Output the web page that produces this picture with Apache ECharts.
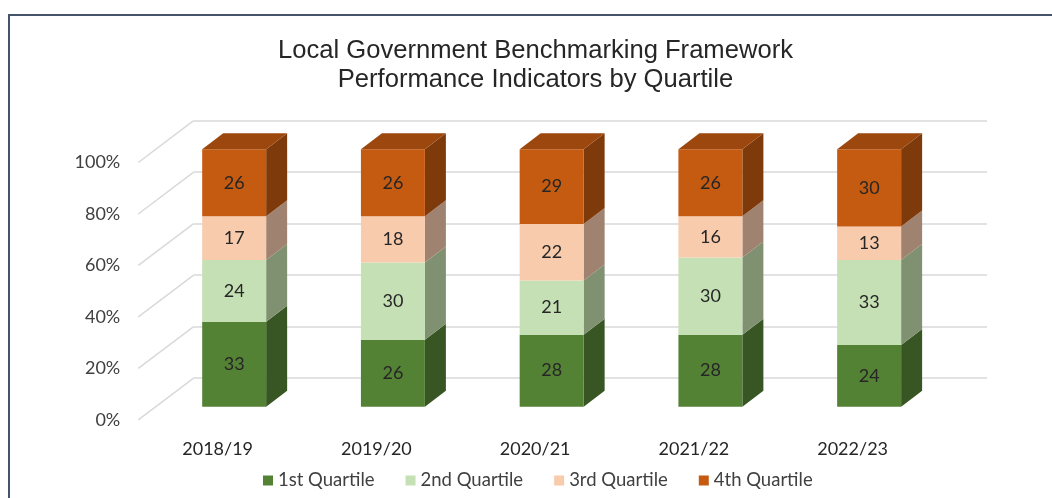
<!DOCTYPE html>
<html>
<head>
<meta charset="utf-8">
<script src="https://cdn.jsdelivr.net/npm/echarts@6/dist/echarts.min.js"></script>
<style>
  html, body { margin: 0; padding: 0; background: #fff; overflow: hidden; }
  .frame {
    position: absolute;
    left: 8px;
    top: 14px;
    width: 2000px;
    height: 1000px;
    border-left: 2px solid #44546a;
    border-top: 2px solid #44546a;
  }
  #chart { position: absolute; left: 0; top: 0; width: 1052px; height: 498px; }
</style>
</head>
<body>
<div class="frame"></div>
<div id="chart"></div>
<script>
const years = ['2018/19', '2019/20', '2020/21', '2021/22', '2022/23']
const quartiles = ['1st Quartile', '2nd Quartile', '3rd Quartile', '4th Quartile']
const q1 = [33, 26, 28, 28, 24]
const q2 = [24, 30, 21, 30, 33]
const q3 = [17, 18, 22, 16, 13]
const q4 = [26, 26, 29, 26, 30]
const yTicks = [0, 20, 40, 60, 80, 100]

// front / side / top colours per quartile
const fronts = ['#548235', '#c5e0b4', '#f8cbad', '#c55a11']
const sides = ['#375623', '#7f9171', '#a08270', '#7f3a0b']
const topColor = '#9c470e'

// 3d depth of a bar and of the whole plot box
const barDx = 21
const barDy = 16
const wallDx = 55
const wallDy = 41.6

const chart = echarts.init(document.getElementById('chart'))

const font = 'Lato, "Noto Sans", sans-serif'
const plotW = 793.7
const plotH = 257.4

function stackData(values, below) {
  return values.map((v, i) => {
    let base = 0
    below.forEach(arr => { base += arr[i] })
    return [i, base, base + v, v]
  })
}

function barRender(k) {
  return function (params, api) {
    const i = api.value(0)
    const pb = api.coord([i, api.value(1)])
    const pt = api.coord([i, api.value(2)])
    const w = api.size([1, 0])[0] * 0.403
    const x0 = pb[0] - w / 2
    const x1 = pb[0] + w / 2
    const yb = pb[1]
    const yt = pt[1]
    const children = [
      {
        type: 'polygon',
        shape: { points: [[x1, yb], [x1 + barDx, yb - barDy], [x1 + barDx, yt - barDy], [x1, yt]] },
        style: { fill: sides[k] }
      },
      {
        type: 'rect',
        shape: { x: x0, y: yt, width: w, height: yb - yt },
        style: { fill: fronts[k] }
      },
      {
        type: 'text',
        style: {
          text: String(api.value(3)),
          x: pb[0],
          y: (yb + yt) / 2,
          align: 'center',
          verticalAlign: 'middle',
          fill: '#262626',
          fontSize: 18,
          fontFamily: font
        }
      }
    ]
    if (k === 3) {
      children.push({
        type: 'polygon',
        shape: { points: [[x0, yt], [x1, yt], [x1 + barDx, yt - barDy], [x0 + barDx, yt - barDy]] },
        style: { fill: topColor }
      })
    }
    return { type: 'group', children: children }
  }
}

const all = [q1, q2, q3, q4]
const barSeries = all.map((arr, k) => ({
  name: quartiles[k],
  type: 'custom',
  xAxisIndex: 0,
  yAxisIndex: 0,
  itemStyle: { color: fronts[k] },
  renderItem: barRender(k),
  data: stackData(arr, all.slice(0, k))
}))

const option = {
  animation: false,
  title: {
    text: 'Local Government Benchmarking Framework\nPerformance Indicators by Quartile',
    left: 530.5,
    top: 31,
    textAlign: 'center',
    textStyle: {
      fontFamily: '"Liberation Sans", Arial, sans-serif',
      fontSize: 25.6,
      fontWeight: 'normal',
      lineHeight: 29,
      color: '#262626'
    }
  },
  legend: {
    data: quartiles,
    left: 258,
    top: 466,
    icon: 'rect',
    itemWidth: 10,
    itemHeight: 10,
    itemGap: 31,
    textStyle: { fontFamily: font, fontSize: 18.5, color: '#404040' }
  },
  grid: [
    // bar plane
    { left: 154.8, top: 149.3, width: plotW, height: plotH },
    // front plane (axis labels)
    { left: 138.3, top: 162.5, width: plotW, height: plotH },
    // back wall (gridlines)
    { left: 193.3, top: 120.5, width: plotW, height: plotH }
  ],
  xAxis: [0, 1, 2].map(g => ({
    type: 'category',
    gridIndex: g,
    data: years,
    axisLine: { show: false },
    axisTick: { show: false },
    axisLabel: {
      show: g === 1,
      margin: 20,
      fontFamily: font,
      fontSize: 18,
      color: '#262626'
    }
  })),
  yAxis: [0, 1, 2].map(g => ({
    type: 'value',
    gridIndex: g,
    min: 0,
    max: 100,
    interval: 20,
    axisLine: { show: false },
    axisTick: { show: false },
    axisLabel: {
      show: g === 1,
      margin: 18,
      formatter: '{value}%',
      fontFamily: font,
      fontSize: 18,
      color: '#404040'
    },
    splitLine: {
      show: g === 2,
      lineStyle: { color: '#d9d9d9', width: 1.5 }
    }
  })),
  series: [
    {
      // diagonal gridlines on the side wall
      type: 'custom',
      xAxisIndex: 1,
      yAxisIndex: 1,
      silent: true,
      renderItem: function (params, api) {
        const p = api.coord([0, api.value(0)])
        const x = params.coordSys.x
        return {
          type: 'line',
          shape: { x1: x, y1: p[1], x2: x + wallDx, y2: p[1] - wallDy },
          style: { stroke: '#d9d9d9', lineWidth: 1.5 }
        }
      },
      data: yTicks.map(v => [v])
    }
  ].concat(barSeries)
}

chart.setOption(option)
</script>
</body>
</html>
